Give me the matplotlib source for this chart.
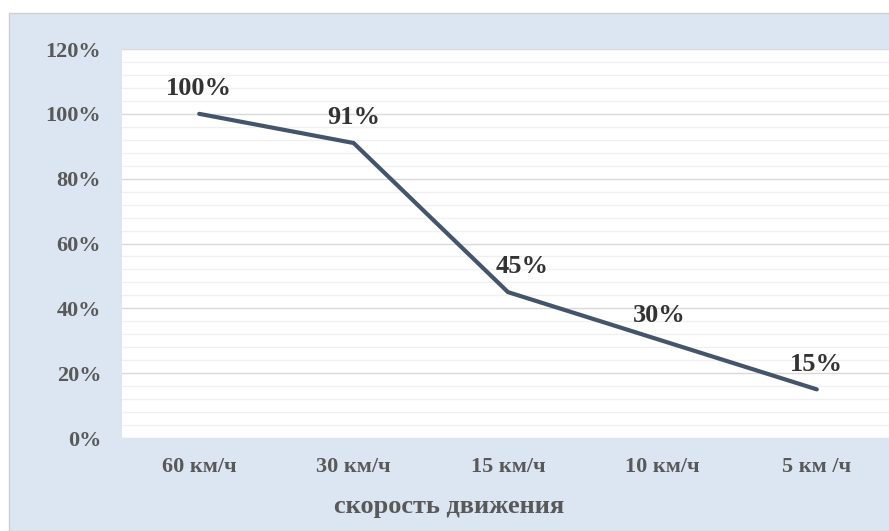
import matplotlib
matplotlib.use("Agg")
import matplotlib.pyplot as plt
from matplotlib.patches import Rectangle
from matplotlib.ticker import MultipleLocator, FuncFormatter

categories = ["60 км/ч", "30 км/ч", "15 км/ч", "10 км/ч", "5 км /ч"]
values = [100, 91, 45, 30, 15]
label_dx = [0, 0, 10, -2, 0]
x_title = "скорость движения"

plt.rcParams['font.family'] = ['Liberation Serif', 'DejaVu Serif']

W, H = 889, 531
fig = plt.figure(figsize=(W / 100, H / 100), dpi=100)
fig.patch.set_facecolor("white")
panel = Rectangle((9 / W, 0), 1, 1 - 13 / H, transform=fig.transFigure,
                  facecolor="#DCE6F2", edgecolor="#D0D0D0", linewidth=1, zorder=-10)
fig.patches.append(panel)

ax = fig.add_axes([122 / W, (H - 438) / H, (894 - 122) / W, (438 - 49) / H])
ax.set_zorder(1)
ax.set_facecolor("white")
x = list(range(len(categories)))
ax.plot(x, values, color="#44546A", linewidth=3, solid_capstyle="round", zorder=3)
for xi, v, dx in zip(x, values, label_dx):
    ax.annotate(f"{v}%", (xi, v), xytext=(dx, 13.5), textcoords="offset points",
                ha="center", va="baseline", fontsize=19, fontweight="bold", color="#333333")

ax.set_xlim(-0.5, len(categories) - 0.5)
ax.set_ylim(0, 120)
ax.yaxis.set_major_locator(MultipleLocator(20))
ax.yaxis.set_minor_locator(MultipleLocator(4))
ax.yaxis.set_major_formatter(FuncFormatter(lambda v, p: f"{v:.0f}%"))
ax.grid(which="major", axis="y", color="#D9D9D9", linewidth=1.0)
ax.grid(which="minor", axis="y", color="#F0F0F0", linewidth=1.0)
ax.set_axisbelow(True)
ax.set_xticks(x)
ax.set_xticklabels(categories)
for s in ax.spines.values():
    s.set_visible(False)
ax.tick_params(which="both", length=0)
ax.tick_params(axis="y", pad=15, labelsize=16, labelcolor="#595959")
ax.tick_params(axis="x", pad=14, labelsize=16, labelcolor="#595959")
for t in ax.get_xticklabels() + ax.get_yticklabels():
    t.set_fontweight("bold")
fig.text(449 / W, (H - 507) / H, x_title, ha="center", va="center",
         fontsize=19, fontweight="bold", color="#595959")

fig.savefig("out.png", dpi=100)
